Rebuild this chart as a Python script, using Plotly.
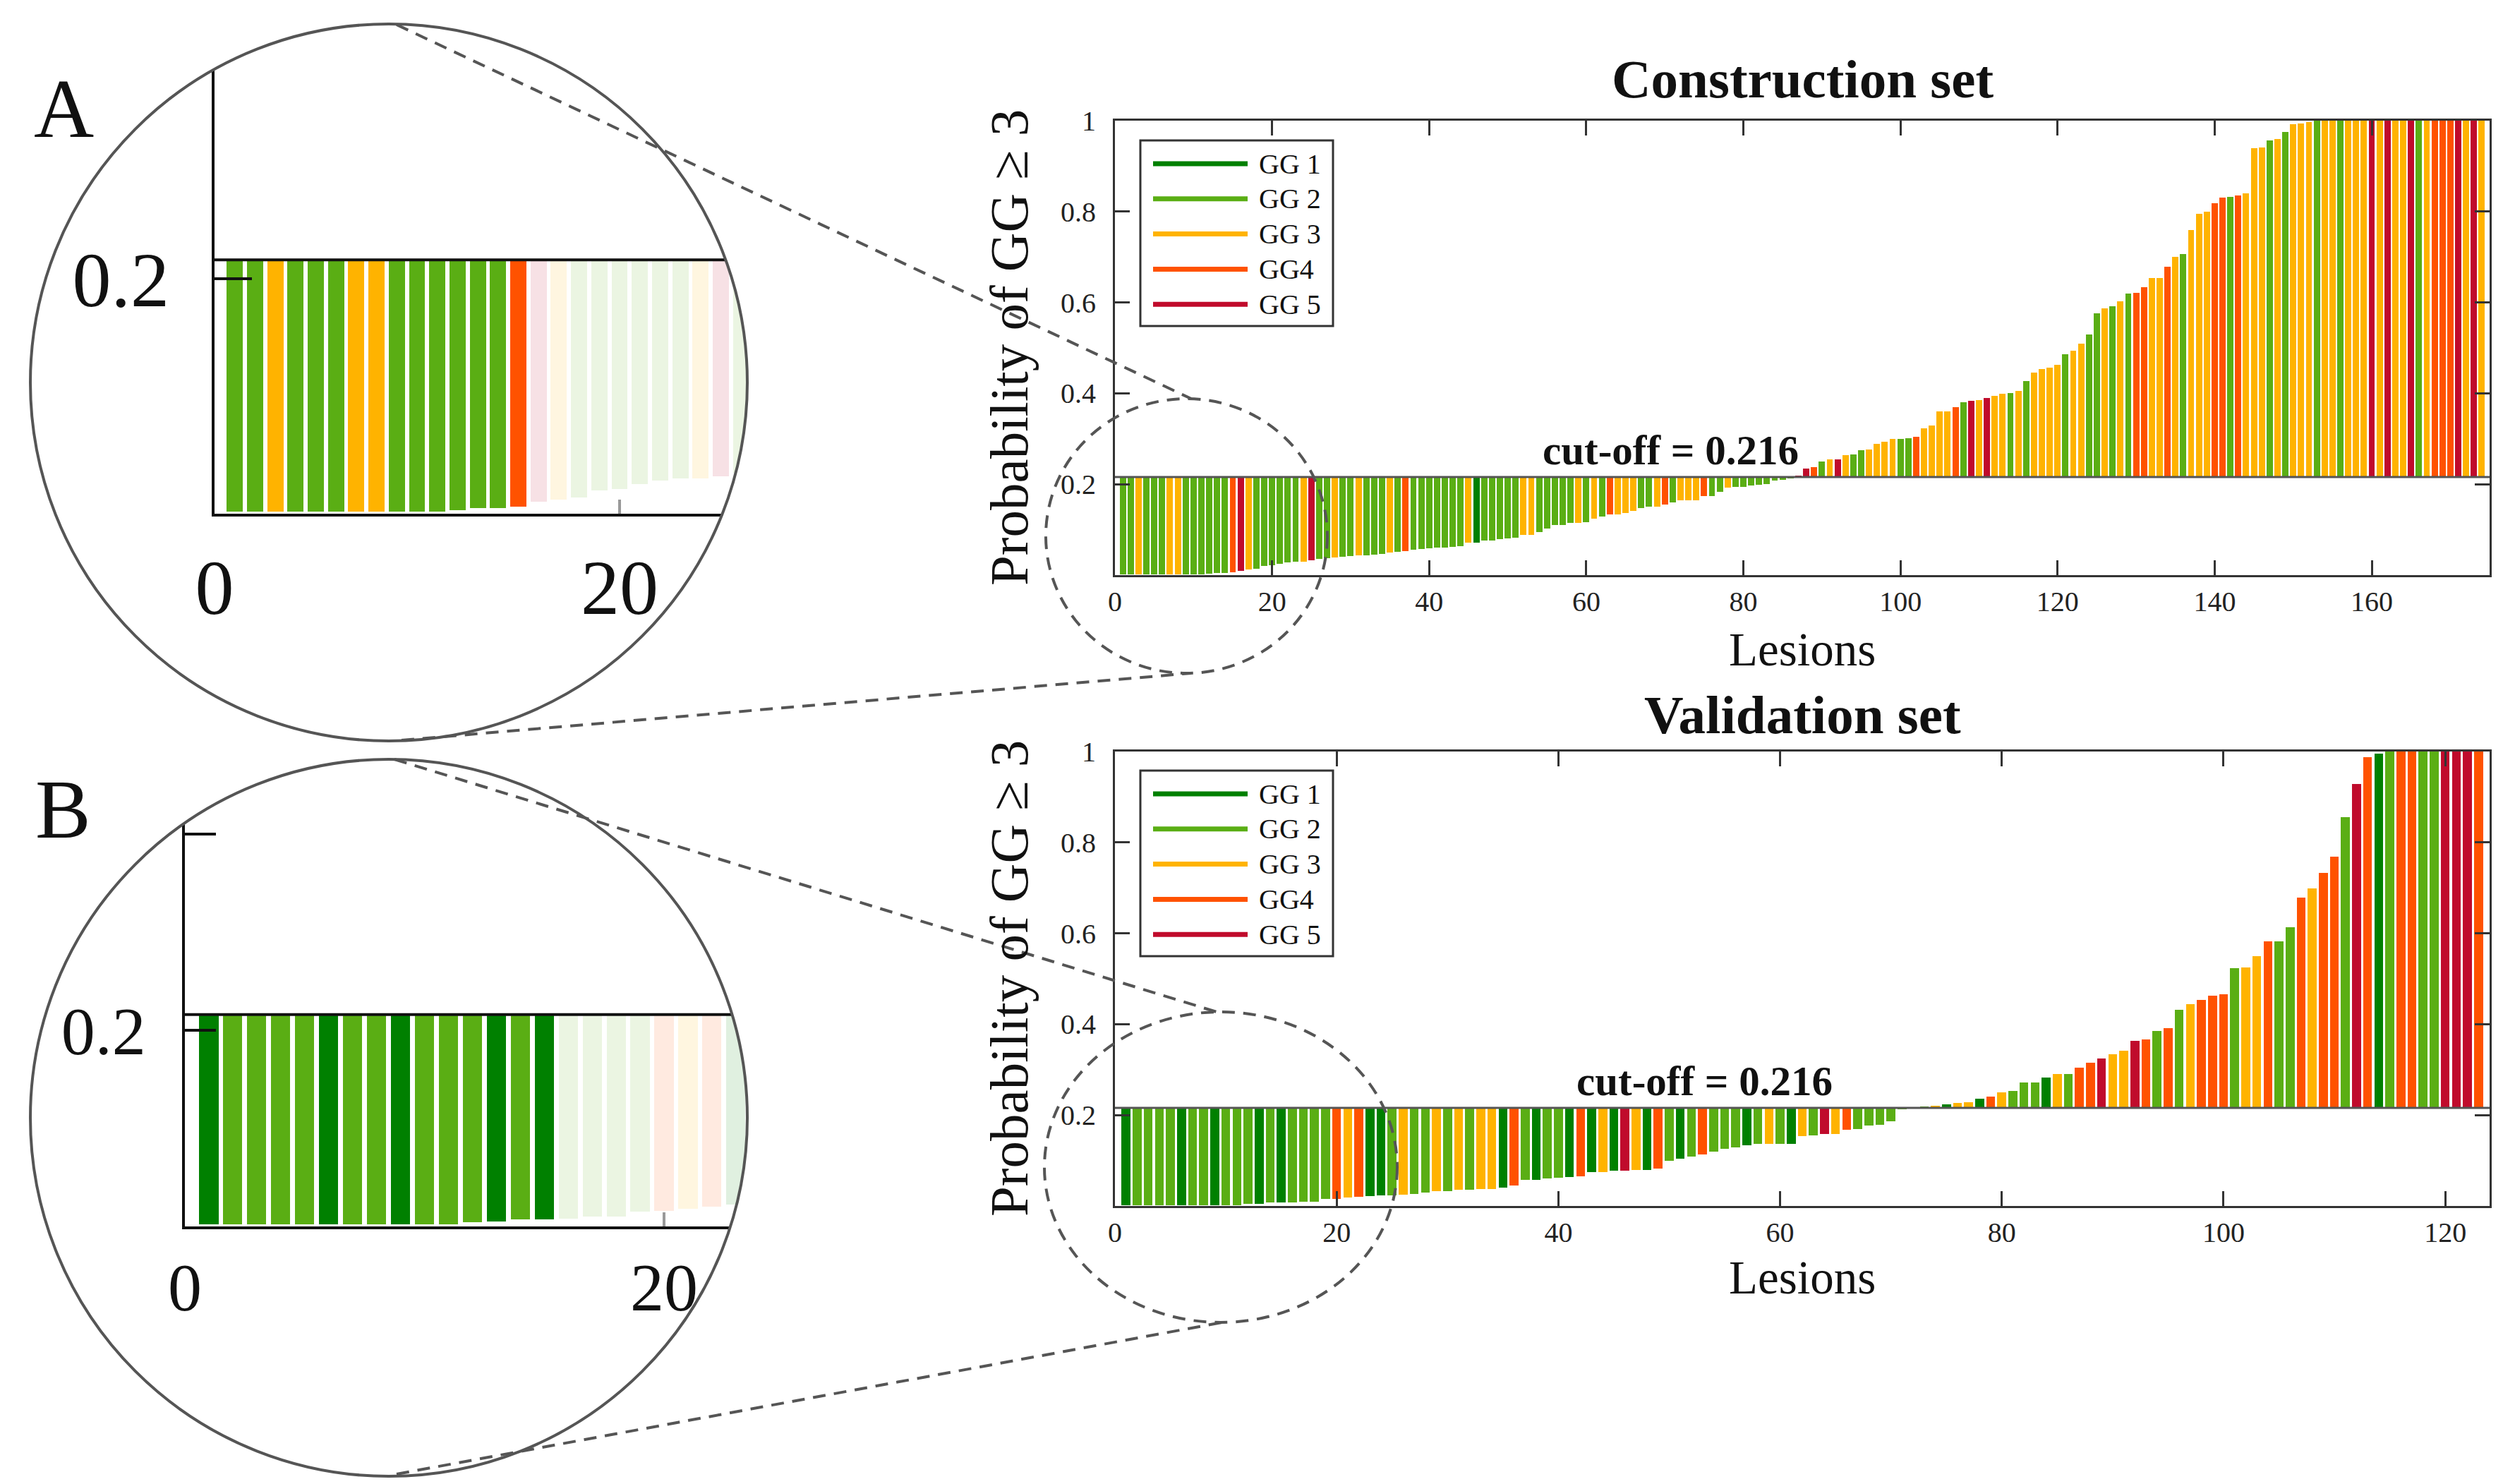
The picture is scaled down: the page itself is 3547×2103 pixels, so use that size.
import plotly.graph_objects as go

# ---------------- data ----------------
CUTOFF = 0.216
GG_LABELS = ["GG 1", "GG 2", "GG 3", "GG4", "GG 5"]
GG_COLORS = ["#008000", "#5AAE14", "#FFB300", "#FF5200", "#C00B2C"]

construction_prob = [
    0.002, 0.002, 0.002, 0.002, 0.002, 0.002, 0.002, 0.002, 0.002, 0.002,
    0.002, 0.003, 0.005, 0.005, 0.006, 0.010, 0.012, 0.014, 0.020, 0.021,
    0.025, 0.028, 0.030, 0.030, 0.032, 0.035, 0.037, 0.039, 0.041, 0.042,
    0.043, 0.044, 0.045, 0.047, 0.049, 0.051, 0.053, 0.056, 0.057, 0.059,
    0.061, 0.061, 0.062, 0.063, 0.071, 0.071, 0.076, 0.076, 0.079, 0.081,
    0.083, 0.088, 0.089, 0.095, 0.103, 0.111, 0.111, 0.115, 0.115, 0.117,
    0.125, 0.129, 0.134, 0.134, 0.137, 0.141, 0.147, 0.150, 0.151, 0.155,
    0.160, 0.164, 0.164, 0.165, 0.174, 0.174, 0.184, 0.192, 0.194, 0.194,
    0.197, 0.199, 0.201, 0.208, 0.209, 0.213, 0.219, 0.235, 0.238, 0.250,
    0.254, 0.255, 0.264, 0.265, 0.275, 0.277, 0.289, 0.294, 0.299, 0.300,
    0.301, 0.304, 0.323, 0.329, 0.360, 0.360, 0.370, 0.381, 0.383, 0.385,
    0.390, 0.395, 0.399, 0.401, 0.406, 0.427, 0.446, 0.453, 0.457, 0.463,
    0.486, 0.494, 0.510, 0.529, 0.576, 0.587, 0.592, 0.603, 0.619, 0.621,
    0.633, 0.653, 0.653, 0.678, 0.700, 0.707, 0.760, 0.795, 0.800, 0.818,
    0.831, 0.832, 0.835, 0.840, 0.940, 0.941, 0.957, 0.960, 0.975, 0.992,
    0.994, 0.997, 1.000, 1.000, 1.000, 1.000, 1.000, 1.000, 1.000, 1.000,
    1.000, 1.000, 1.000, 1.000, 1.000, 1.000, 1.000, 1.000, 1.000, 1.000,
    1.000, 1.000, 1.000, 1.000,
]
construction_gg = [
    2, 2, 3, 2, 2, 2, 3, 3, 2, 2, 2, 2, 2, 2, 4, 5, 3, 2, 2, 2,
    2, 2, 2, 3, 5, 2, 2, 3, 2, 2, 3, 2, 2, 2, 3, 2, 4, 2, 2, 2,
    2, 2, 2, 2, 3, 1, 2, 2, 2, 2, 2, 3, 3, 2, 2, 2, 2, 2, 3, 2,
    3, 2, 4, 3, 3, 3, 2, 2, 3, 4, 2, 3, 3, 3, 4, 2, 2, 3, 2, 2,
    2, 2, 2, 2, 2, 2, 5, 5, 4, 2, 3, 5, 3, 2, 2, 3, 3, 3, 3, 2,
    2, 4, 3, 3, 3, 3, 4, 2, 5, 3, 5, 3, 3, 2, 3, 2, 3, 3, 3, 3,
    2, 3, 3, 2, 2, 3, 2, 3, 2, 4, 4, 3, 3, 4, 3, 2, 3, 3, 3, 4,
    4, 2, 4, 3, 3, 3, 2, 3, 2, 3, 3, 3, 2, 3, 3, 2, 3, 3, 3, 5,
    3, 5, 3, 3, 5, 2, 3, 4, 4, 4, 5, 3, 5, 3,
]

validation_prob = [
    0.002, 0.002, 0.002, 0.002, 0.002, 0.002, 0.002, 0.002, 0.002, 0.002,
    0.002, 0.004, 0.005, 0.007, 0.007, 0.008, 0.010, 0.010, 0.015, 0.016,
    0.018, 0.020, 0.022, 0.023, 0.024, 0.025, 0.026, 0.030, 0.032, 0.032,
    0.035, 0.036, 0.037, 0.038, 0.040, 0.045, 0.057, 0.057, 0.061, 0.062,
    0.063, 0.065, 0.074, 0.075, 0.077, 0.077, 0.079, 0.079, 0.083, 0.099,
    0.104, 0.108, 0.114, 0.119, 0.126, 0.129, 0.134, 0.136, 0.136, 0.137,
    0.137, 0.153, 0.155, 0.158, 0.159, 0.167, 0.169, 0.177, 0.179, 0.186,
    0.213, 0.215, 0.219, 0.220, 0.223, 0.226, 0.228, 0.236, 0.241, 0.250,
    0.253, 0.271, 0.271, 0.282, 0.290, 0.291, 0.305, 0.316, 0.325, 0.334,
    0.341, 0.364, 0.366, 0.385, 0.391, 0.431, 0.444, 0.453, 0.463, 0.466,
    0.524, 0.525, 0.550, 0.582, 0.583, 0.613, 0.678, 0.699, 0.733, 0.768,
    0.856, 0.929, 0.987, 0.995, 1.000, 1.000, 1.000, 1.000, 1.000, 1.000,
    1.000, 1.000, 1.000,
]
validation_gg = [
    1, 2, 2, 2, 2, 1, 2, 2, 1, 2, 2, 2, 1, 2, 1, 2, 2, 2, 2, 4,
    3, 4, 1, 1, 2, 3, 2, 2, 3, 2, 3, 2, 3, 3, 1, 4, 2, 1, 2, 2,
    1, 4, 1, 3, 1, 5, 3, 1, 4, 2, 1, 2, 4, 2, 2, 2, 1, 2, 3, 2,
    1, 3, 2, 5, 3, 4, 2, 2, 2, 2, 2, 5, 2, 3, 1, 3, 3, 1, 4, 3,
    2, 2, 2, 1, 3, 2, 4, 4, 5, 3, 3, 5, 4, 2, 4, 2, 3, 4, 4, 4,
    2, 3, 3, 4, 2, 2, 4, 3, 4, 4, 2, 5, 4, 1, 2, 4, 4, 2, 2, 5,
    5, 5, 4,
]

construction_xticks = [0, 20, 40, 60, 80, 100, 120, 140, 160]
validation_xticks = [0, 20, 40, 60, 80, 100, 120]
prob_tickvals = [0.2, 0.4, 0.6, 0.8, 1.0]
prob_ticktext = ["0.2", "0.4", "0.6", "0.8", "1"]
inset_xticks = [0, 20]
inset_ytickvals = [0.2, 0.4]
inset_yticktext = ["0.2", ""]
INSET_N = 27      # bars shown inside the magnifier circles
INSET_SOLID = 15  # bars drawn at full opacity inside the magnifier

# ---------------- geometry helpers (pixel -> paper) ----------------
W, H = 3547, 2103
FONT = "Liberation Serif"
AX = "#333333"
DASH_C = "#555555"


def px(x):
    return x / W


def py(y):
    return 1 - y / H


fig = go.Figure()


def add_bars(probs, grades, xa, ya, n=None, faded=False):
    if n is not None:
        probs = probs[:n]
        grades = grades[:n]
    xs = list(range(1, len(probs) + 1))
    cols = [GG_COLORS[g - 1] for g in grades]
    op = None
    if faded:
        op = [1.0 if i < INSET_SOLID else 0.12 for i in range(len(probs))]
    fig.add_trace(go.Bar(
        x=xs, y=[p - CUTOFF for p in probs], base=CUTOFF,
        marker=dict(color=cols, line=dict(width=0), opacity=op),
        width=0.8, xaxis=xa, yaxis=ya, showlegend=False, hoverinfo="skip"))


add_bars(construction_prob, construction_gg, "x", "y")
add_bars(validation_prob, validation_gg, "x2", "y2")
add_bars(construction_prob, construction_gg, "x3", "y3", n=INSET_N, faded=True)
add_bars(validation_prob, validation_gg, "x4", "y4", n=INSET_N, faded=True)

# ---------------- axes ----------------
main_common = dict(showgrid=False, zeroline=False, showline=True, linecolor=AX,
                   linewidth=3, ticks="inside", tickcolor=AX, tickwidth=3,
                   ticklen=21, mirror="ticks", automargin=False,
                   tickfont=dict(family=FONT, size=40, color="#222222"))

X0, X1 = 1572, 3520
CY0, CY1 = 163, 807
VY0, VY1 = 1057, 1701

layout = dict(
    width=W, height=H, margin=dict(l=0, r=0, t=0, b=0),
    paper_bgcolor="white", plot_bgcolor="rgba(0,0,0,0)",
    showlegend=False, bargap=0,
    xaxis=dict(main_common, domain=[px(X0), px(X1)], range=[0, 175],
               tickvals=construction_xticks, anchor="y", ticklabelstandoff=0),
    yaxis=dict(main_common, domain=[py(CY1), py(CY0)], range=[0, 1],
               tickvals=prob_tickvals, ticktext=prob_ticktext, anchor="x",
               ticklabelstandoff=16),
    xaxis2=dict(main_common, domain=[px(X0), px(X1)], range=[0, 124],
                tickvals=validation_xticks, anchor="y2", ticklabelstandoff=0),
    yaxis2=dict(main_common, domain=[py(VY1), py(VY0)], range=[0, 1],
                tickvals=prob_tickvals, ticktext=prob_ticktext, anchor="x2",
                ticklabelstandoff=16),
)

inset_common = dict(showgrid=False, zeroline=False, showline=True, linecolor="#111111",
                    linewidth=4, ticks="inside", tickcolor="#111111", tickwidth=4,
                    mirror=False, automargin=False)

# inset A (construction magnifier)
A_X0, A_Y0 = 296, 720          # pixel of (0, 0)
A_SX, A_SY = 28.7, 1665.0      # px per unit
A_XR, A_YT = 1060, 30
layout["xaxis3"] = dict(inset_common, domain=[px(A_X0), px(A_XR)],
                        range=[0, (A_XR - A_X0) / A_SX], tickvals=inset_xticks,
                        ticklen=20, tickcolor="#999999", anchor="y3",
                        tickfont=dict(family=FONT, size=110, color="#111111"),
                        ticklabelstandoff=6)
layout["yaxis3"] = dict(inset_common, domain=[py(A_Y0), py(A_YT)],
                        range=[0, (A_Y0 - A_YT) / A_SY], tickvals=inset_ytickvals,
                        ticktext=inset_yticktext, ticklen=53, anchor="x3",
                        tickfont=dict(family=FONT, size=110, color="#111111"),
                        ticklabelstandoff=38)

# inset B (validation magnifier)
B_X0, B_Y0 = 254, 1730
B_SX, B_SY = 33.95, 1390.0
B_XR, B_YT = 1060, 1075
layout["xaxis4"] = dict(inset_common, domain=[px(B_X0), px(B_XR)],
                        range=[0, (B_XR - B_X0) / B_SX], tickvals=inset_xticks,
                        ticklen=20, tickcolor="#999999", anchor="y4",
                        tickfont=dict(family=FONT, size=96, color="#111111"),
                        ticklabelstandoff=0)
layout["yaxis4"] = dict(inset_common, domain=[py(B_Y0), py(B_YT)],
                        range=[0, (B_Y0 - B_YT) / B_SY], tickvals=inset_ytickvals,
                        ticktext=inset_yticktext, ticklen=44, anchor="x4",
                        tickfont=dict(family=FONT, size=96, color="#111111"),
                        ticklabelstandoff=32)

fig.update_layout(**layout)

# ---------------- shapes ----------------
shapes = []
# cut-off lines in main charts
shapes.append(dict(type="line", xref="x", yref="y", x0=0, x1=175, y0=CUTOFF, y1=CUTOFF,
                   line=dict(color="#555555", width=3), layer="above"))
shapes.append(dict(type="line", xref="x2", yref="y2", x0=0, x1=124, y0=CUTOFF, y1=CUTOFF,
                   line=dict(color="#555555", width=3), layer="above"))
# cut-off lines in insets
shapes.append(dict(type="line", xref="x3", yref="y3", x0=0, x1=40, y0=CUTOFF, y1=CUTOFF,
                   line=dict(color="#111111", width=4), layer="above"))
shapes.append(dict(type="line", xref="x4", yref="y4", x0=0, x1=40, y0=CUTOFF, y1=CUTOFF,
                   line=dict(color="#111111", width=4), layer="above"))


def fmt(v):
    return "%.6f" % v


def mask_path(cx, cy, r, x0, y0, x1, y1):
    k = 0.5523 * r
    p = "M%s,%s L%s,%s L%s,%s L%s,%s Z " % (
        fmt(px(x0)), fmt(py(y0)), fmt(px(x1)), fmt(py(y0)),
        fmt(px(x1)), fmt(py(y1)), fmt(px(x0)), fmt(py(y1)))
    pts = [
        (cx + r, cy),
        ((cx + r, cy + k), (cx + k, cy + r), (cx, cy + r)),
        ((cx - k, cy + r), (cx - r, cy + k), (cx - r, cy)),
        ((cx - r, cy - k), (cx - k, cy - r), (cx, cy - r)),
        ((cx + k, cy - r), (cx + r, cy - k), (cx + r, cy)),
    ]
    p += "M%s,%s " % (fmt(px(pts[0][0])), fmt(py(pts[0][1])))
    for seg in pts[1:]:
        p += "C" + " ".join("%s,%s" % (fmt(px(a)), fmt(py(b))) for a, b in seg) + " "
    p += "Z"
    return p


CA = (543, 534, 508)
CB = (543, 1576, 508)
for (cx, cy, r), (y0, y1) in ((CA, (0, 1054)), (CB, (1056, 2103))):
    shapes.append(dict(type="path", xref="paper", yref="paper",
                       path=mask_path(cx, cy, r, 0, y0, 1110, y1),
                       fillcolor="white", fillrule="evenodd",
                       line=dict(width=0), layer="above"))
    shapes.append(dict(type="circle", xref="paper", yref="paper",
                       x0=px(cx - r), x1=px(cx + r), y0=py(cy + r), y1=py(cy - r),
                       line=dict(color=DASH_C, width=4), layer="above"))

# dashed magnified regions
DASH = "18px,12px"
for (ex0, ey0, ex1, ey1) in ((1474, 557, 1873, 946), (1472, 1426, 1972, 1866)):
    shapes.append(dict(type="circle", xref="paper", yref="paper",
                       x0=px(ex0), x1=px(ex1), y0=py(ey1), y1=py(ey0),
                       line=dict(color=DASH_C, width=4, dash=DASH), layer="above"))
# connectors
for (a, b, c, d) in ((554, 27, 1680, 557), (561, 1041, 1680, 946),
                     (551, 1068, 1716, 1426), (554, 2081, 1724, 1866)):
    shapes.append(dict(type="line", xref="paper", yref="paper",
                       x0=px(a), y0=py(b), x1=px(c), y1=py(d),
                       line=dict(color=DASH_C, width=4, dash=DASH), layer="above"))

# manual legends (MATLAB-style line samples)
annotations = []
for top in (191, 1084):
    shapes.append(dict(type="rect", xref="paper", yref="paper",
                       x0=px(1608), x1=px(1881), y0=py(top + 263), y1=py(top),
                       fillcolor="white", line=dict(color=AX, width=3), layer="above"))
    for i, (lab, col) in enumerate(zip(GG_LABELS, GG_COLORS)):
        yy = top + 33 + i * 49.8
        shapes.append(dict(type="line", xref="paper", yref="paper",
                           x0=px(1626), x1=px(1760), y0=py(yy), y1=py(yy),
                           line=dict(color=col, width=7), layer="above"))
        annotations.append(dict(text=lab, xref="paper", yref="paper",
                                x=px(1774), y=py(yy), xanchor="left", yanchor="middle",
                                showarrow=False,
                                font=dict(family=FONT, size=40, color="#111111")))

# ---------------- text ----------------
CX = (X0 + X1) / 2
texts = [
    ("<b>Construction set</b>", CX, 104, 77, 0),
    ("<b>Validation set</b>", CX, 1005, 77, 0),
    ("Lesions", CX, 912, 67, 0),
    ("Lesions", CX, 1802, 67, 0),
    ("Probability of GG ≥ 3", 1422, (CY0 + CY1) / 2, 77, -90),
    ("Probability of GG ≥ 3", 1422, (VY0 + VY1) / 2, 77, -90),
    ("A", 82, 147, 118, 0),
    ("B", 81, 1139, 118, 0),
]
for t, x, y, s, ang in texts:
    annotations.append(dict(text=t, xref="paper", yref="paper", x=px(x), y=py(y),
                            xanchor="center", yanchor="middle", showarrow=False,
                            textangle=ang, font=dict(family=FONT, size=s, color="#111111")))

annotations.append(dict(text="<b>cut-off = 0.216</b>", xref="x", yref="y",
                        x=(2359 - X0) / ((X1 - X0) / 175), y=CUTOFF, yshift=3,
                        xanchor="center", yanchor="bottom", showarrow=False,
                        font=dict(family=FONT, size=59, color="#111111")))
annotations.append(dict(text="<b>cut-off = 0.216</b>", xref="x2", yref="y2",
                        x=(2407 - X0) / ((X1 - X0) / 124), y=CUTOFF, yshift=3,
                        xanchor="center", yanchor="bottom", showarrow=False,
                        font=dict(family=FONT, size=59, color="#111111")))

fig.update_layout(shapes=shapes, annotations=annotations)
fig.write_html("out.html")
